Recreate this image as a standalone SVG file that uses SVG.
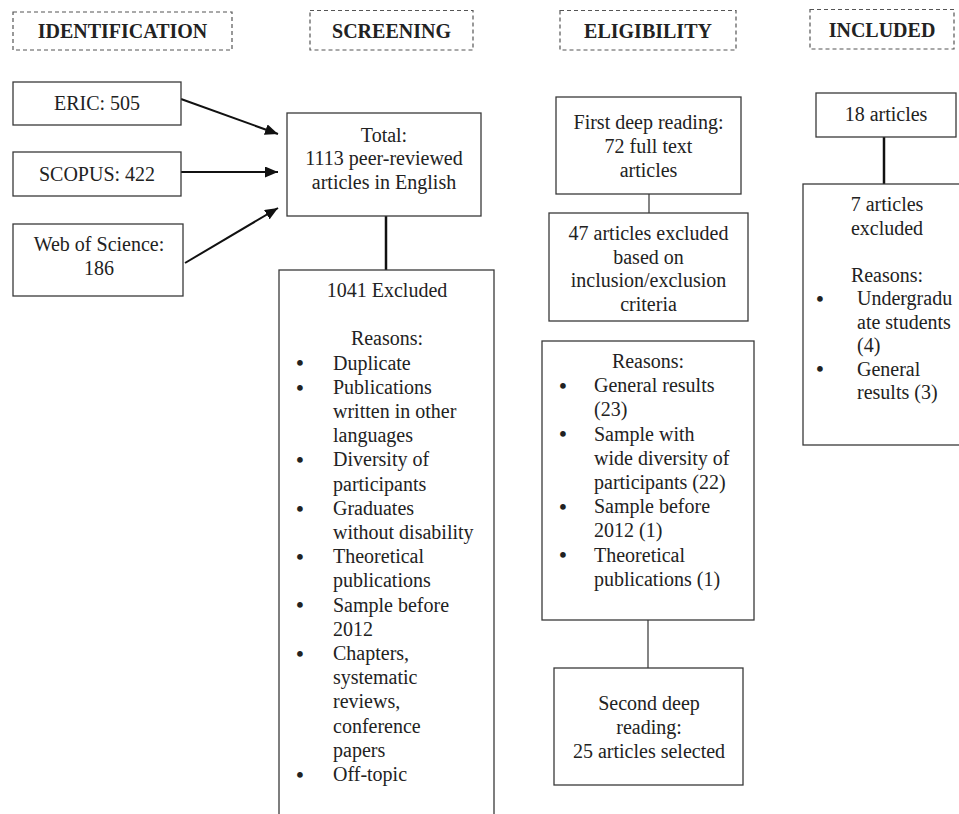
<svg xmlns="http://www.w3.org/2000/svg" width="959" height="814" viewBox="0 0 959 814">
<style>
.bg{fill:#fff}
.box{fill:#fff;stroke:#3a3a3a;stroke-width:1.3}
.hdr{fill:none;stroke:#555;stroke-width:1.2;stroke-dasharray:4 3}
.t{font-family:"Liberation Serif","Times New Roman",serif;font-size:20px;fill:#222}
.c{text-anchor:middle}
.h{font-weight:bold}
.b{font-size:21px;text-anchor:middle;font-weight:bold}
.thick{stroke:#111;stroke-width:2.5;fill:none}
.thin{stroke:#333;stroke-width:1.2;fill:none}
.arrow{stroke:#111;stroke-width:2;fill:none;marker-end:url(#ah)}
</style>
<defs>
<marker id="ah" markerWidth="13" markerHeight="11" refX="13" refY="5.5" orient="auto" markerUnits="userSpaceOnUse">
<path d="M0,0 L13,5.5 L0,11 z" fill="#111"/>
</marker>
</defs>
<rect class="bg" x="0" y="0" width="959" height="814"/>

<g id="hdr-identification">
<rect class="hdr" x="13" y="12" width="219" height="38"/>
<text class="t c h" x="122.5" y="38">IDENTIFICATION</text>
</g>
<g id="hdr-screening">
<rect class="hdr" x="310" y="10.5" width="163" height="39.5"/>
<text class="t c h" x="391.5" y="37.5">SCREENING</text>
</g>
<g id="hdr-eligibility">
<rect class="hdr" x="560" y="10.5" width="176" height="39.5"/>
<text class="t c h" x="648" y="37.5">ELIGIBILITY</text>
</g>
<g id="hdr-included">
<rect class="hdr" x="810" y="9.5" width="144" height="39.5"/>
<text class="t c h" x="882" y="36.5">INCLUDED</text>
</g>

<g id="connectors">
<line class="arrow" x1="181" y1="99" x2="278" y2="134"/>
<line class="arrow" x1="181" y1="172" x2="278" y2="172"/>
<line class="arrow" x1="185" y1="263" x2="278" y2="208"/>
<line class="thick" x1="386" y1="216" x2="386" y2="270"/>
<line class="thin" x1="649" y1="194" x2="649" y2="213"/>
<line class="thin" x1="648" y1="620" x2="648" y2="668"/>
<line class="thick" x1="884" y1="137" x2="884" y2="184"/>
</g>

<g id="eric">
<rect class="box" x="13" y="82" width="168" height="43"/>
<text class="t c" x="97" y="109.5">ERIC: 505</text>
</g>
<g id="scopus">
<rect class="box" x="13" y="152" width="168" height="44"/>
<text class="t c" x="97" y="180.5">SCOPUS: 422</text>
</g>
<g id="wos">
<rect class="box" x="13" y="224" width="170" height="72"/>
<text class="t c" x="99" y="251">Web of Science:</text>
<text class="t c" x="99" y="275">186</text>
</g>

<g id="total">
<rect class="box" x="287" y="113" width="194" height="103"/>
<text class="t c" x="384" y="141.5">Total:</text>
<text class="t c" x="384" y="165">1113 peer-reviewed</text>
<text class="t c" x="384" y="188.5">articles in English</text>
</g>

<g id="screening-excluded">
<rect class="box" x="279" y="270" width="215" height="570"/>
<text class="t c" x="387" y="297">1041 Excluded</text>
<text class="t c" x="387" y="345.4">Reasons:</text>
<text class="t b" x="300" y="370.4">•</text><text class="t" x="333" y="369.6">Duplicate</text>
<text class="t b" x="300" y="394.6">•</text><text class="t" x="333" y="393.8">Publications</text>
<text class="t" x="333" y="418">written in other</text>
<text class="t" x="333" y="442.2">languages</text>
<text class="t b" x="300" y="467.2">•</text><text class="t" x="333" y="466.4">Diversity of</text>
<text class="t" x="333" y="490.6">participants</text>
<text class="t b" x="300" y="515.6">•</text><text class="t" x="333" y="514.8">Graduates</text>
<text class="t" x="333" y="539">without disability</text>
<text class="t b" x="300" y="564">•</text><text class="t" x="333" y="563.2">Theoretical</text>
<text class="t" x="333" y="587.4">publications</text>
<text class="t b" x="300" y="612.4">•</text><text class="t" x="333" y="611.6">Sample before</text>
<text class="t" x="333" y="635.8">2012</text>
<text class="t b" x="300" y="660.8">•</text><text class="t" x="333" y="660">Chapters,</text>
<text class="t" x="333" y="684.2">systematic</text>
<text class="t" x="333" y="708.4">reviews,</text>
<text class="t" x="333" y="732.6">conference</text>
<text class="t" x="333" y="756.8">papers</text>
<text class="t b" x="300" y="781.8">•</text><text class="t" x="333" y="781">Off-topic</text>
</g>

<g id="first-reading">
<rect class="box" x="556" y="97" width="185" height="97"/>
<text class="t c" x="648.5" y="129">First deep reading:</text>
<text class="t c" x="648.5" y="153">72 full text</text>
<text class="t c" x="648.5" y="177">articles</text>
</g>
<g id="excluded-47">
<rect class="box" x="549" y="213" width="199" height="108"/>
<text class="t c" x="648.5" y="240">47 articles excluded</text>
<text class="t c" x="648.5" y="263.5">based on</text>
<text class="t c" x="648.5" y="287">inclusion/exclusion</text>
<text class="t c" x="648.5" y="311">criteria</text>
</g>
<g id="eligibility-reasons">
<rect class="box" x="542" y="341" width="212" height="279"/>
<text class="t c" x="648" y="368">Reasons:</text>
<text class="t b" x="563" y="393">•</text><text class="t" x="594" y="392.2">General results</text>
<text class="t" x="594" y="416.4">(23)</text>
<text class="t b" x="563" y="441.4">•</text><text class="t" x="594" y="440.6">Sample with</text>
<text class="t" x="594" y="464.8">wide diversity of</text>
<text class="t" x="594" y="489">participants (22)</text>
<text class="t b" x="563" y="514">•</text><text class="t" x="594" y="513.2">Sample before</text>
<text class="t" x="594" y="537.4">2012 (1)</text>
<text class="t b" x="563" y="562.4">•</text><text class="t" x="594" y="561.6">Theoretical</text>
<text class="t" x="594" y="585.8">publications (1)</text>
</g>
<g id="second-reading">
<rect class="box" x="554" y="668" width="189" height="117"/>
<text class="t c" x="649" y="710">Second deep</text>
<text class="t c" x="649" y="734">reading:</text>
<text class="t c" x="649" y="758">25 articles selected</text>
</g>

<g id="included-18">
<rect class="box" x="816" y="93" width="140" height="44"/>
<text class="t c" x="886" y="121">18 articles</text>
</g>
<g id="included-excluded">
<rect class="box" x="803" y="184" width="180" height="261"/>
<text class="t c" x="887" y="211">7 articles</text>
<text class="t c" x="887" y="234.5">excluded</text>
<text class="t c" x="887" y="281.5">Reasons:</text>
<text class="t b" x="820" y="305.8">•</text><text class="t" x="857" y="305">Undergradu</text>
<text class="t" x="857" y="328.5">ate students</text>
<text class="t" x="857" y="352">(4)</text>
<text class="t b" x="820" y="376.3">•</text><text class="t" x="857" y="375.5">General</text>
<text class="t" x="857" y="399">results (3)</text>
</g>
</svg>
